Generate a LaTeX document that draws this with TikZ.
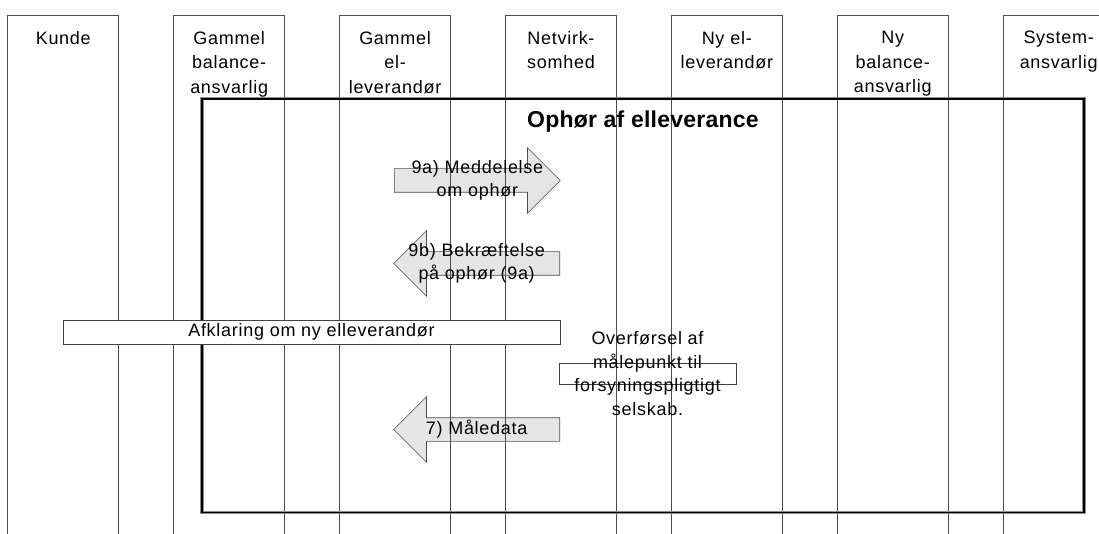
\documentclass[tikz,border=0pt]{standalone}
\usepackage{fontspec}
\setmainfont{Liberation Sans}[LetterSpace=4.0]
\newfontfamily\titlefont{Liberation Sans}[LetterSpace=1.0]
\usetikzlibrary{positioning}
\usetikzlibrary{calc}
\usetikzlibrary{shapes.arrows}

\begin{document}
\begin{tikzpicture}[x=1pt, y=-1pt, node distance=55pt,
  colhead/.style={anchor=north, text width=100pt, inner xsep=5.25pt, inner ysep=15.3pt, align=center, font=\fontsize{18}{24.5}\selectfont},
  colline/.style={draw=black!70, line width=0.75pt},
  msg/.style={shape=single arrow, draw=black!70, fill=black!10, line width=0.6pt, inner xsep=0pt, inner ysep=11.5pt, single arrow head extend=21pt, minimum height=166pt, anchor=tail},
  msgtext/.style={align=center, inner sep=0pt, font=\fontsize{18}{23.5}\selectfont},
  plainbox/.style={draw=black!75, line width=0.6pt, inner sep=0pt, font=\fontsize{18}{23.5}\selectfont},
  bigbox/.style={draw=black, line width=1.8pt, preaction={draw=black!45, line width=3.2pt}},
  titletext/.style={inner sep=0pt, font=\fontsize{23}{27}\titlefont\bfseries}]
\clip (0,0) rectangle (1099,534);
%%%%%%%%%%%%%% columns
\node[colhead] (kunde) at (63.25,15.8) {Kunde};
\node[colhead, right=of kunde.north east, anchor=north west] (gbal) {Gammel\\balance-\\ansvarlig};
\node[colhead, right=of gbal.north east, anchor=north west] (gel) {Gammel\\el-\\leverandør};
\node[colhead, right=of gel.north east, anchor=north west] (netv) {Netvirk-\\somhed};
\node[colhead, right=of netv.north east, anchor=north west] (nyel) {Ny el-\\leverandør};
\node[colhead, right=of nyel.north east, anchor=north west] (nybal) {Ny\\balance-\\ansvarlig};
\node[colhead, right=of nybal.north east, anchor=north west] (sysans) {System-\\ansvarlig};
\coordinate (bot) at (0,540);
%%%%%%%%%%%%%% messages
\node[msg] (m9a) at (394,180.5) {};
\node[msg, shape border rotate=180] (m9b) at (560,263.5) {};
\node[msg, shape border rotate=180] (m7) at (560,429.5) {};
%%%%%%%%%%%%%% lifelines
\foreach \c in {kunde,gbal,gel,netv,nyel,nybal,sysans}
  \draw[colline] (\c.north west |- bot) |- (\c.north east) -- (\c.north east |- bot);
%%%%%%%%%%%%%% frame
\node[bigbox, anchor=north west, minimum width=882pt, minimum height=413.5pt] (ophor) at (201,98) {};
\node[titletext, below=12.5pt of ophor.north] (title) {Ophør af elleverance};
%%%%%%%%%%%%%%
\node[plainbox, fill=white, minimum width=497pt, minimum height=24.4pt] (afkl) at (311.5,332) {Afklaring om ny elleverandør};
\node[plainbox, minimum width=177pt, minimum height=21pt] (ovbox) at (647.5,373.5) {};
\node[msgtext] (ovtext) at (ovbox) {Overførsel af\\målepunkt til\\forsyningspligtigt\\selskab.};
\node[msgtext] (t9a) at ($(m9a.tail)!0.5!(m9a.tip)$) {9a) Meddelelse\\om ophør};
\node[msgtext] (t9b) at ($(m9b.tail)!0.5!(m9b.tip)$) {9b) Bekræftelse\\på ophør (9a)};
\node[msgtext] (t7) at ($(m7.tail)!0.5!(m7.tip)$) {7) Måledata};
\end{tikzpicture}
\end{document}
